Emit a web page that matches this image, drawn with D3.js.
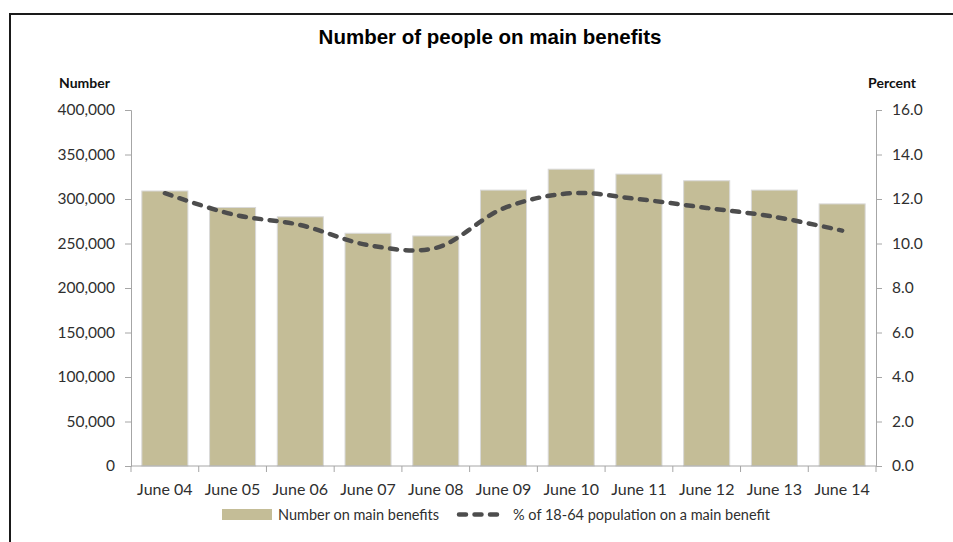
<!DOCTYPE html>
<html>
<head>
<meta charset="utf-8">
<script src="https://cdn.jsdelivr.net/npm/d3@7"></script>
<style>
  html, body { margin: 0; padding: 0; background: #fff; }
  svg { display: block; }
</style>
</head>
<body>
<svg id="chart" width="953" height="542"></svg>
<script>
// Benefit counts (June each year) and share of the 18-64 population
const categories = ["June 04", "June 05", "June 06", "June 07", "June 08", "June 09",
                    "June 10", "June 11", "June 12", "June 13", "June 14"];
const beneficiaries = [309000, 290500, 280000, 261500, 258500, 310000,
                       333500, 328000, 320500, 310000, 294500];
const percentOfPopulation = [12.26, 11.31, 10.83, 9.93, 9.8, 11.58,
                             12.26, 11.99, 11.6, 11.2, 10.58];
const leftTicks = [0, 50000, 100000, 150000, 200000, 250000, 300000, 350000, 400000];
const rightTicks = [0, 2, 4, 6, 8, 10, 12, 14, 16];

const svg = d3.select("#chart");
const labelFont = "Lato, 'Open Sans', sans-serif";
const textColor = "#2f2f2f";
const axisColor = "#a6a6a6";

// Outer frame
svg.append("path")
  .attr("d", "M10,542 V14 H953")
  .attr("fill", "none")
  .attr("stroke", "#1a1a1a")
  .attr("stroke-width", 2);

// Title
svg.append("text")
  .attr("x", 490).attr("y", 44)
  .attr("text-anchor", "middle")
  .attr("font-family", "'Liberation Sans', Arial, sans-serif")
  .attr("font-weight", "bold")
  .attr("font-size", 20.5)
  .attr("fill", "#000")
  .text("Number of people on main benefits");

const plot = { left: 131, right: 876, top: 110, bottom: 466 };

const x = d3.scaleBand()
  .domain(categories)
  .range([plot.left, plot.right])
  .paddingInner(0.32)
  .paddingOuter(0.16);

const yLeft = d3.scaleLinear().domain([0, 400000]).range([plot.bottom, plot.top]);
const yRight = d3.scaleLinear().domain([0, 16]).range([plot.bottom, plot.top]);

// Bars
svg.append("g")
  .selectAll("rect")
  .data(beneficiaries)
  .join("rect")
  .attr("x", (d, i) => x(categories[i]))
  .attr("y", d => yLeft(d))
  .attr("width", x.bandwidth())
  .attr("height", d => plot.bottom - yLeft(d))
  .attr("fill", "#c4bd97")
  .attr("stroke", "#d9d9d9")
  .attr("stroke-width", 1);

// Left axis
const gLeft = svg.append("g")
  .attr("transform", `translate(${plot.left},0)`)
  .call(d3.axisLeft(yLeft).tickValues(leftTicks).tickSize(6).tickPadding(10)
    .tickFormat(d3.format(",")));
gLeft.selectAll("path, line").attr("stroke", axisColor);
gLeft.selectAll("text")
  .attr("font-family", labelFont).attr("font-size", 15.5).attr("fill", textColor);

// Right axis
const gRight = svg.append("g")
  .attr("transform", `translate(${plot.right},0)`)
  .call(d3.axisRight(yRight).tickValues(rightTicks).tickSize(6).tickPadding(10)
    .tickFormat(d3.format(".1f")));
gRight.selectAll("path, line").attr("stroke", axisColor);
gRight.selectAll("text")
  .attr("font-family", labelFont).attr("font-size", 15.5).attr("fill", textColor);

// Bottom axis with ticks at category boundaries
const gBottom = svg.append("g")
  .attr("transform", `translate(0,${plot.bottom})`);
gBottom.append("line")
  .attr("x1", plot.left).attr("x2", plot.right)
  .attr("stroke", axisColor);
const boundaries = d3.range(categories.length + 1)
  .map(i => plot.left + i * (plot.right - plot.left) / categories.length);
gBottom.selectAll("line.tick")
  .data(boundaries)
  .join("line")
  .attr("class", "tick")
  .attr("x1", d => d).attr("x2", d => d)
  .attr("y1", 0).attr("y2", 6)
  .attr("stroke", axisColor);
gBottom.selectAll("text")
  .data(categories)
  .join("text")
  .attr("x", d => x(d) + x.bandwidth() / 2)
  .attr("y", 29)
  .attr("text-anchor", "middle")
  .attr("font-family", labelFont)
  .attr("font-size", 16)
  .attr("fill", textColor)
  .text(d => d);

// Axis titles
svg.append("text")
  .attr("x", 59).attr("y", 88)
  .attr("font-family", labelFont).attr("font-weight", "bold")
  .attr("font-size", 14).attr("fill", "#111")
  .text("Number");
svg.append("text")
  .attr("x", 916).attr("y", 88)
  .attr("text-anchor", "end")
  .attr("font-family", labelFont).attr("font-weight", "bold")
  .attr("font-size", 14).attr("fill", "#111")
  .text("Percent");

// Smoothed dashed percentage line
const line = d3.line()
  .x((d, i) => x(categories[i]) + x.bandwidth() / 2)
  .y(d => yRight(d))
  .curve(d3.curveCatmullRom.alpha(0.5));

const dashPattern = "7,8.5";
svg.append("path")
  .datum(percentOfPopulation)
  .attr("d", line)
  .attr("fill", "none")
  .attr("stroke", "#4d4d4d")
  .attr("stroke-width", 4.5)
  .attr("stroke-linecap", "round")
  .attr("stroke-dasharray", dashPattern);

// Legend
const legend = svg.append("g");
legend.append("rect")
  .attr("x", 222).attr("y", 509)
  .attr("width", 50).attr("height", 11)
  .attr("fill", "#c4bd97");
legend.append("text")
  .attr("x", 278).attr("y", 519.5)
  .attr("font-family", labelFont).attr("font-size", 14.5).attr("fill", textColor)
  .text("Number on main benefits");
legend.append("line")
  .attr("x1", 459).attr("x2", 497)
  .attr("y1", 514.5).attr("y2", 514.5)
  .attr("stroke", "#4d4d4d")
  .attr("stroke-width", 4.5)
  .attr("stroke-linecap", "round")
  .attr("stroke-dasharray", dashPattern);
legend.append("text")
  .attr("x", 513).attr("y", 519.5)
  .attr("font-family", labelFont).attr("font-size", 14.5).attr("fill", textColor)
  .text("% of 18-64 population on a main benefit");
</script>
</body>
</html>
